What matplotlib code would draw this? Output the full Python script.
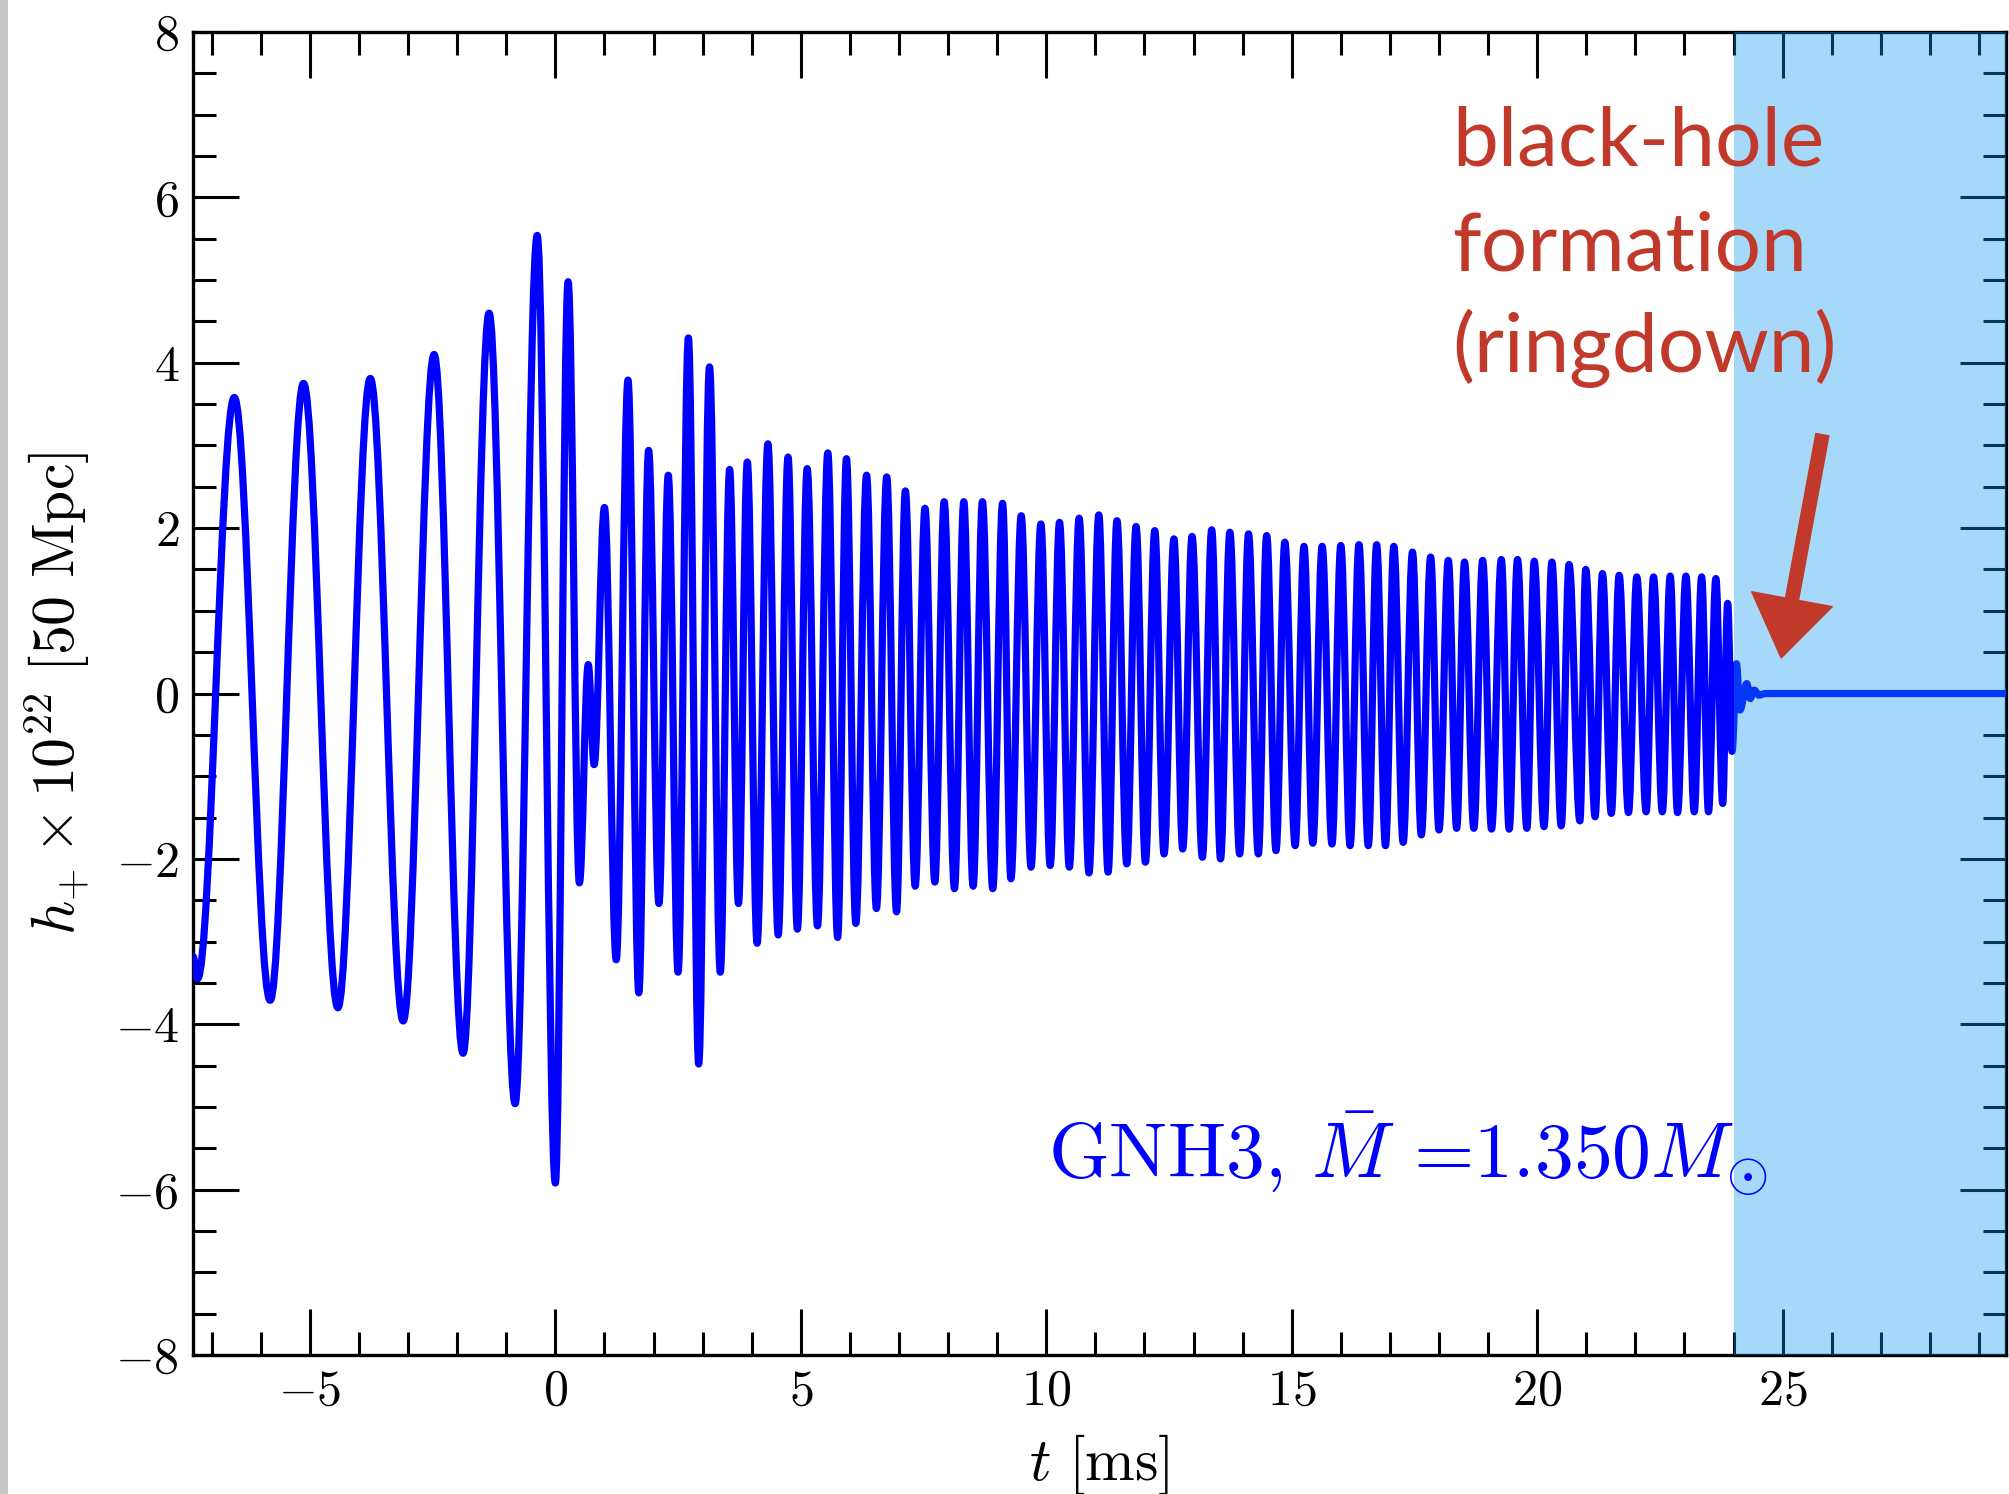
import numpy as np
import matplotlib
matplotlib.use('Agg')
import matplotlib.pyplot as plt
from matplotlib.path import Path
from matplotlib.patches import PathPatch, FancyArrowPatch, Rectangle
from matplotlib.ticker import MultipleLocator

plt.rcParams['font.family'] = 'serif'
plt.rcParams['font.serif'] = ['cmr10']
plt.rcParams['mathtext.fontset'] = 'cm'
plt.rcParams['axes.formatter.use_mathtext'] = True

# waveform extrema: t [ms], h_+ x 1e22
start_t, start_h = -7.38, -3.18

trough_t = [-7.29, -5.81, -4.43, -3.10, -1.88, -0.82, 0.00, 0.49, 0.79, 1.24,
            1.70, 2.11, 2.50, 2.92, 3.36, 3.73, 4.11, 4.54, 4.93, 5.34,
            5.75, 6.12, 6.54, 6.95, 7.33, 7.73, 8.13, 8.51, 8.91, 9.28,
            9.69, 10.08, 10.47, 10.87, 11.26, 11.64, 12.02, 12.40, 12.78, 13.18,
            13.55, 13.94, 14.32, 14.68, 15.07, 15.43, 15.82, 16.19, 16.56, 16.91,
            17.27, 17.64, 18.00, 18.36, 18.71, 19.07, 19.43, 19.79, 20.14, 20.49,
            20.87, 21.18, 21.51, 21.86, 22.22, 22.55, 22.86, 23.20, 23.49, 23.78,
            23.97, 24.13, 24.34]
trough_h = [-3.45, -3.71, -3.80, -3.96, -4.35, -4.96, -5.92, -2.29, -0.86, -3.22,
            -3.62, -2.54, -3.37, -4.48, -3.37, -2.54, -3.02, -2.92, -2.85, -2.81,
            -2.95, -2.78, -2.60, -2.64, -2.33, -2.28, -2.36, -2.33, -2.36, -2.24,
            -2.10, -2.08, -2.10, -2.17, -2.16, -2.06, -2.04, -1.94, -1.88, -1.98,
            -2.00, -1.94, -1.94, -1.90, -1.84, -1.81, -1.82, -1.84, -1.84, -1.84,
            -1.80, -1.71, -1.65, -1.63, -1.63, -1.64, -1.64, -1.63, -1.61, -1.60,
            -1.54, -1.49, -1.45, -1.44, -1.43, -1.43, -1.44, -1.43, -1.43, -1.33,
            -0.70, -0.20, -0.06]

peak_t = [-6.54, -5.13, -3.77, -2.47, -1.35, -0.37, 0.26, 0.67, 1.00, 1.48,
          1.90, 2.30, 2.71, 3.14, 3.55, 3.91, 4.33, 4.74, 5.13, 5.55,
          5.93, 6.34, 6.75, 7.13, 7.53, 7.92, 8.32, 8.70, 9.11, 9.49,
          9.89, 10.27, 10.67, 11.07, 11.44, 11.83, 12.21, 12.60, 12.97, 13.37,
          13.74, 14.12, 14.49, 14.86, 15.25, 15.62, 16.00, 16.37, 16.73, 17.08,
          17.46, 17.83, 18.19, 18.52, 18.89, 19.27, 19.60, 19.94, 20.30, 20.65,
          20.99, 21.33, 21.67, 22.03, 22.37, 22.71, 23.03, 23.35, 23.64, 23.88,
          24.06, 24.27, 24.42]
peak_h = [3.58, 3.75, 3.81, 4.10, 4.60, 5.54, 4.98, 0.35, 2.25, 3.79,
          2.94, 2.64, 4.30, 3.95, 2.71, 2.80, 3.02, 2.86, 2.72, 2.91,
          2.84, 2.64, 2.62, 2.45, 2.24, 2.32, 2.32, 2.32, 2.30, 2.15,
          2.05, 2.07, 2.12, 2.16, 2.09, 2.02, 1.97, 1.87, 1.90, 1.98,
          1.95, 1.93, 1.91, 1.83, 1.78, 1.78, 1.79, 1.80, 1.80, 1.78,
          1.71, 1.65, 1.61, 1.59, 1.61, 1.62, 1.62, 1.60, 1.59, 1.56,
          1.50, 1.45, 1.43, 1.41, 1.41, 1.42, 1.42, 1.41, 1.39, 1.09,
          0.36, 0.12, 0.04]

tail_t = [24.52, 24.65, 29.6]
tail_h = [-0.02, 0.00, 0.00]

t_bh = 24.0  # black-hole formation
xticks = [-5, 0, 5, 10, 15, 20, 25]
yticks = [-8, -6, -4, -2, 0, 2, 4, 6, 8]

red = '#c0392b'
blue = '#0000ff'

fig = plt.figure(figsize=(20.09, 14.94), dpi=100)
ax = fig.add_axes([0.0961, 0.0930, 0.9024, 0.8856])

# knots: start, alternating trough/peak, ringdown tail
kt = np.concatenate([[start_t], np.column_stack([trough_t, peak_t]).ravel(), tail_t])
kh = np.concatenate([[start_h], np.column_stack([trough_h, peak_h]).ravel(), tail_h])

# smooth half-cycles between extrema as cubic Bezier segments
k = 1 - 2 / np.pi
verts = [(kt[0], kh[0])]
codes = [Path.MOVETO]
for t1, h1, t2, h2 in zip(kt[:-1], kh[:-1], kt[1:], kh[1:]):
    dt = t2 - t1
    verts += [(t1 + k * dt, h1), (t2 - k * dt, h2), (t2, h2)]
    codes += [Path.CURVE4] * 3
wave = PathPatch(Path(verts, codes), facecolor='none', edgecolor=blue,
                 lw=5.2, joinstyle='round', capstyle='round', zorder=3)
ax.add_patch(wave)

# translucent ringdown band over everything in the axes
ax.axvspan(t_bh, 30, color='#0f96f1', alpha=0.37, lw=0, zorder=5)

ax.set_xlim(-7.38, 29.55)
ax.set_ylim(-8, 8)
ax.set_xticks(xticks, labels=['$%d$' % v for v in xticks])
ax.set_yticks(yticks, labels=['$%d$' % v for v in yticks])
ax.xaxis.set_minor_locator(MultipleLocator(1))
ax.yaxis.set_minor_locator(MultipleLocator(0.5))
ax.tick_params(which='both', direction='in', top=True, right=True,
               width=2.2, labelsize=36, pad=10)
ax.tick_params(which='major', length=33)
ax.tick_params(which='minor', length=16.5)
for s in ax.spines.values():
    s.set_linewidth(2.4)

ax.set_xlabel(r'$t\ [\mathrm{ms}]$', fontsize=43)
ax.set_ylabel(r'$h_{+}\times 10^{22}\ [50\ \mathrm{Mpc}]$', fontsize=43)
ax.xaxis.set_label_coords(0.5, -0.058)
ax.yaxis.set_label_coords(-0.0557, 0.5)

ax.text(10.04, -5.87, r'GNH3, $\bar{M}$ =1.350$M_{\odot}$', color=blue,
        fontsize=56, va='baseline', ha='left', zorder=6)

for line, y in zip(['black-hole', 'formation', '(ringdown)'], [6.39, 5.11, 3.89]):
    ax.text(18.27, y, line, color=red, family='Lato', fontsize=59,
            va='baseline', ha='left', zorder=6)

arrow = FancyArrowPatch((25.81, 3.13), (24.97, 0.43),
                        arrowstyle='simple,head_length=4.3,head_width=5.9,tail_width=0.95',
                        mutation_scale=10, color=red, shrinkA=0, shrinkB=0, zorder=6)
ax.add_patch(arrow)

# grey edge strip of the screenshot
fig.add_artist(Rectangle((0, 0), 8 / 2009, 1, transform=fig.transFigure,
                         color='#c8c8c8', lw=0))

fig.savefig('out.png', dpi=100)
